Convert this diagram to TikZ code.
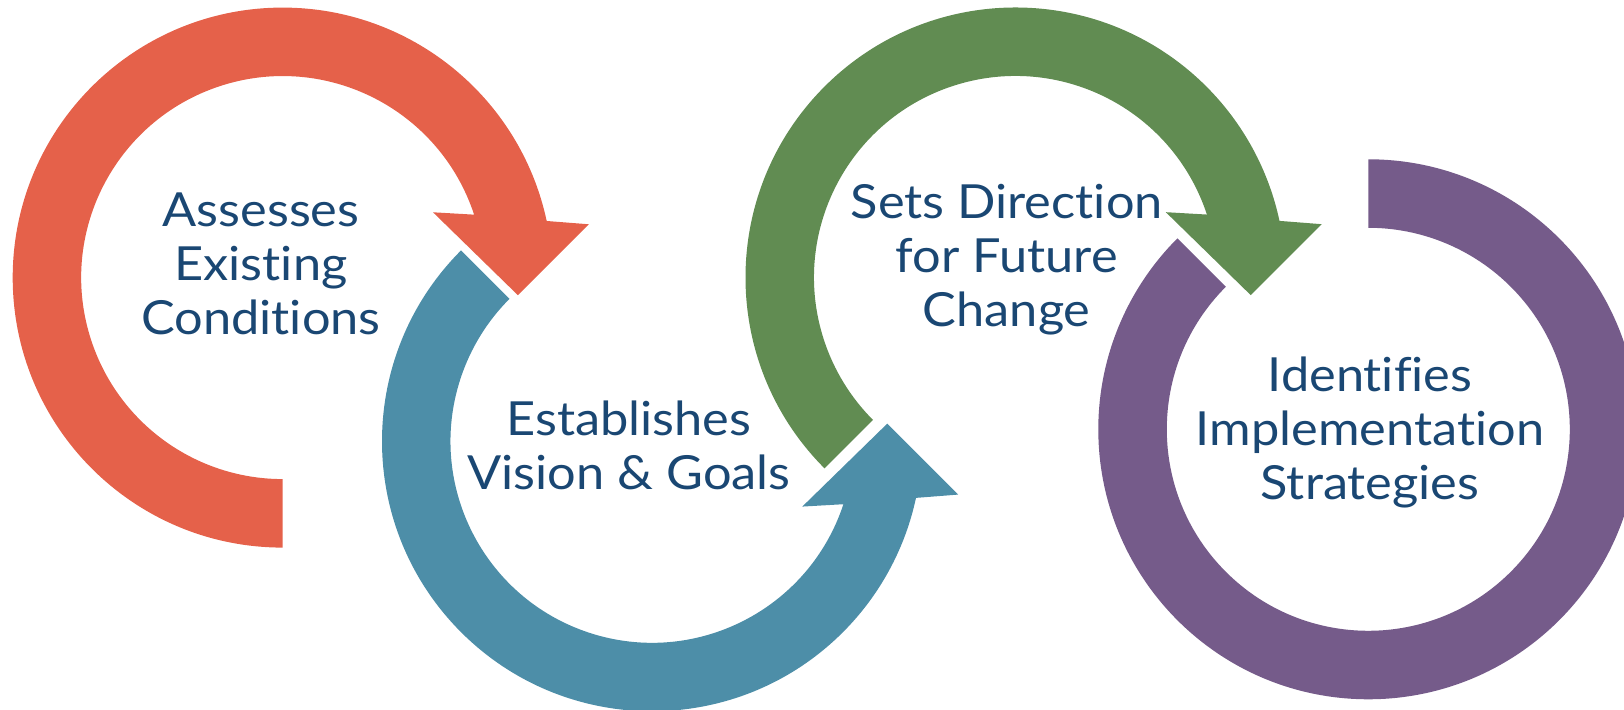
\documentclass[tikz,border=0pt]{standalone}
\usepackage{fontspec}
\setmainfont{Lato}[Ligatures={NoCommon}, FakeStretch=1.075]
\definecolor{cRed}{RGB}{229,97,74}
\definecolor{cBlue}{RGB}{77,142,168}
\definecolor{cGreen}{RGB}{97,140,82}
\definecolor{cPurple}{RGB}{117,91,138}
\definecolor{cText}{RGB}{26,71,115}
\tikzset{
  lbl/.style={font=\fontsize{23.5}{27}\selectfont, text=cText, align=center, inner sep=0pt, anchor=base},
}
\begin{document}
\begin{tikzpicture}[x=0.5pt,y=0.5pt]
\useasboundingbox (0,0) rectangle (1624,710);
\clip (0,0) rectangle (1624,710);
% red
\begin{scope}[shift={(282.7,432.4)}]
\fill[cRed] (270:270) arc[start angle=270, end angle=12.1, radius=270]
  -- (306.2,53.3) -- (235.2,-17.6) -- (150.3,65.3) -- (18.2:201.5)
  arc[start angle=18.2, end angle=270, radius=201.5] -- cycle;
\end{scope}
% blue
\begin{scope}[shift={(652,268.7)}]
\fill[cBlue] (135:270) arc[start angle=135, end angle=347.9, radius=270]
  -- (306.2,-53.3) -- (235.2,17.6) -- (150.3,-65.3) -- (341.8:201.5)
  arc[start angle=341.8, end angle=135, radius=201.5] -- cycle;
\end{scope}
% green
\begin{scope}[shift={(1015.5,432.5)}]
\fill[cGreen] (225:270) arc[start angle=225, end angle=12.1, radius=270]
  -- (306.2,53.3) -- (235.2,-17.6) -- (150.3,65.3) -- (18.2:201.5)
  arc[start angle=18.2, end angle=225, radius=201.5] -- cycle;
\end{scope}
% purple
\begin{scope}[shift={(1368.3,280.7)}]
\fill[cPurple] (90:270) arc[start angle=90, end angle=-225, radius=270]
  -- (-225:201.5) arc[start angle=-225, end angle=90, radius=201.5] -- cycle;
\end{scope}
% labels (anchor base = baseline of last line)
\node[lbl] (t1) at (261,375.5) {Assesses\\Existing\\Conditions};
\node[lbl] (t2) at (629,220.7) {Establishes\\Vision \& Goals};
\node[lbl] (t3) at (1006.7,383.3) {Sets Direction\\for Future\\Change};
\node[lbl] (t4) at (1370,210) {Identifies\\Implementation\\Strategies};
\end{tikzpicture}
\end{document}
